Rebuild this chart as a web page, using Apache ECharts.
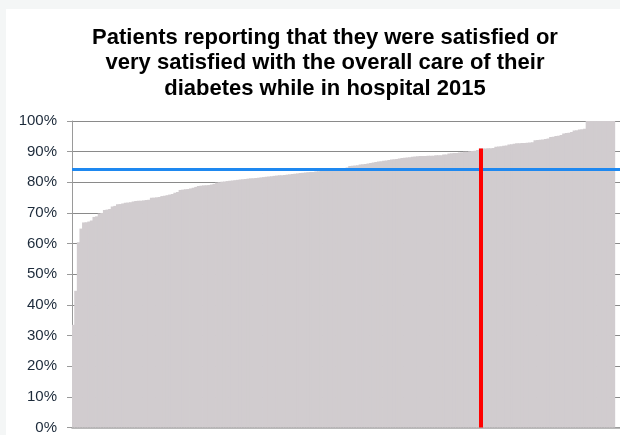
<!DOCTYPE html>
<html>
<head>
<meta charset="utf-8">
<script src="https://cdn.jsdelivr.net/npm/echarts@6/dist/echarts.min.js"></script>
<style>
  html, body { margin:0; padding:0; background:#f4f6f6; }
  #chart { position:absolute; left:6px; top:9px; width:614px; height:426px; background:#fff; }
</style>
</head>
<body>
<div id="chart"></div>
<script>
// % satisfied per hospital, sorted low to high
const satisfaction = [
  33.5, 44.6, 60.4, 64.9, 66.9, 67.0, 67.2, 67.5, 68.7, 68.9,
  69.8, 70.0, 71.0, 71.1, 71.3, 72.1, 72.3, 72.8, 72.9, 73.1,
  73.3, 73.4, 73.5, 73.7, 73.9, 74.0, 74.0, 74.1, 74.2, 74.3,
  75.0, 75.0, 75.1, 75.2, 75.5, 75.6, 75.8, 76.0, 76.2, 76.6,
  76.8, 77.5, 77.6, 77.7, 77.8, 78.0, 78.2, 78.5, 78.8, 78.9,
  79.0, 79.0, 79.1, 79.3, 79.5, 79.9, 80.0, 80.2, 80.3, 80.4,
  80.5, 80.6, 80.7, 80.8, 80.9, 81.0, 81.1, 81.2, 81.3, 81.3,
  81.4, 81.5, 81.6, 81.7, 81.8, 81.9, 82.0, 82.1, 82.2, 82.3,
  82.3, 82.4, 82.5, 82.6, 82.7, 82.8, 82.9, 83.0, 83.1, 83.2,
  83.3, 83.4, 83.4, 83.5, 83.6, 83.7, 83.8, 83.9, 84.0, 84.1,
  84.2, 84.3, 84.4, 84.5, 84.6, 84.8, 85.3, 85.4, 85.5, 85.6,
  85.8, 85.9, 86.0, 86.1, 86.3, 86.5, 86.6, 86.8, 86.9, 87.0,
  87.1, 87.3, 87.4, 87.5, 87.6, 87.8, 87.9, 88.0, 88.1, 88.2,
  88.3, 88.4, 88.5, 88.6, 88.6, 88.6, 88.7, 88.7, 88.7, 88.8,
  88.8, 88.8, 89.1, 89.1, 89.4, 89.5, 89.6, 89.6, 89.7, 89.8,
  90.0, 90.0, 90.1, 90.2, 90.3, 90.5, 91.0, 91.0, 91.0, 91.1,
  91.1, 91.2, 91.6, 91.7, 91.8, 91.9, 92.0, 92.3, 92.4, 92.6,
  92.7, 92.7, 92.8, 92.8, 92.9, 93.0, 93.1, 93.7, 93.8, 93.9,
  94.0, 94.1, 94.3, 94.8, 94.9, 95.1, 95.2, 95.4, 95.9, 96.1,
  96.2, 96.4, 96.9, 97.0, 97.2, 97.3, 97.5, 100, 100, 100,
  100, 100, 100, 100, 100, 100, 100, 100
]
const hospitals = satisfaction.map((v, i) => 'Hospital ' + (i + 1))

const nationalAverage = 84.3   // blue line
const highlightIndex  = 156    // red line (this hospital)

const yTicks = { min: 0, max: 100, interval: 10 }

const chart = echarts.init(document.getElementById('chart'))
chart.setOption({
  animation: false,
  title: {
    text: 'Patients reporting that they were satisfied or\nvery satisfied with the overall care of their\ndiabetes while in hospital 2015',
    left: 314,
    top: 11,
    textAlign: 'center',
    textStyle: {
      fontFamily: 'Liberation Sans, Arial, sans-serif',
      fontSize: 22,
      fontWeight: 'bold',
      color: '#000',
      lineHeight: 25.5
    }
  },
  grid: { left: 66, right: 0, top: 112, bottom: 6 },
  xAxis: {
    type: 'category',
    data: hospitals,
    max: hospitals.length + 1,
    axisLine: { lineStyle: { color: '#a3a3a3', width: 1.5 } },
    axisTick: { show: false },
    axisLabel: { show: false },
    splitLine: { show: false }
  },
  yAxis: {
    type: 'value',
    min: yTicks.min,
    max: yTicks.max,
    interval: yTicks.interval,
    axisLine: { show: true, lineStyle: { color: '#9a9a9a', width: 1 } },
    axisTick: { show: true, length: 5, lineStyle: { color: '#9a9a9a' } },
    axisLabel: {
      formatter: '{value}%',
      margin: 15,
      fontFamily: 'Liberation Sans, Arial, sans-serif',
      fontSize: 15,
      color: '#1c2a3a'
    },
    splitLine: { lineStyle: { color: '#8a8a8a', width: 1 } }
  },
  series: [{
    type: 'bar',
    data: satisfaction,
    // bars a touch wider than the band so neighbours overlap and no seams show
    barWidth: '130%',
    itemStyle: { color: '#d1cccf' },
    markLine: {
      silent: true,
      symbol: 'none',
      label: { show: false },
      data: [
        { yAxis: nationalAverage, lineStyle: { color: '#1e88f0', width: 3, type: 'solid' } },
        [
          { coord: [highlightIndex, 0], lineStyle: { color: '#ff0000', width: 4, type: 'solid' } },
          { coord: [highlightIndex, satisfaction[highlightIndex]] }
        ]
      ]
    }
  }]
})
</script>
</body>
</html>
